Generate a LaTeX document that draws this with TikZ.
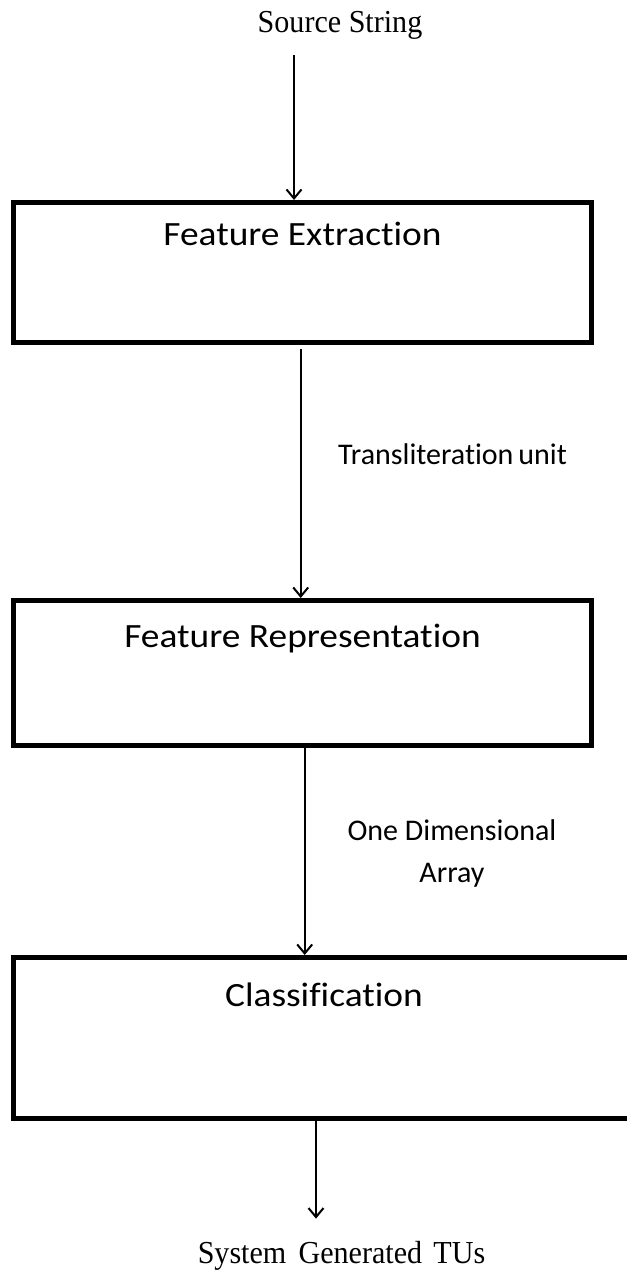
\documentclass[tikz,border=0pt]{standalone}
\usepackage{fontspec}
\setmainfont{Liberation Serif}
\newfontfamily\carlito[Ligatures=NoCommon]{Carlito}
\usetikzlibrary{arrows.meta}
\begin{document}
\begin{tikzpicture}[x=1pt,y=-1pt,
  stage/.style={draw, line width=5pt, inner sep=0pt},
  title/.style={font=\carlito\fontsize{34}{40}\selectfont, inner sep=0pt},
  note/.style={font=\carlito\fontsize{30}{42}\selectfont, inner sep=0pt},
  io/.style={font=\fontsize{32}{38}\selectfont, inner sep=0pt},
  flow/.style={line width=2pt, -{Straight Barb[length=9pt,width=15pt,line width=2pt]}}]

\useasboundingbox (0,0) rectangle (626,1273);

% three processing stages
\node[stage, minimum width=578pt, minimum height=140pt] (extract) at (302.5,272.5) {};
\node[stage, minimum width=578pt, minimum height=145pt] (represent) at (302.5,673) {};
\node[stage, minimum width=621pt, minimum height=161pt] (classify) at (324,1038) {};

% stage titles
\node[title, anchor=base] (extractT) at (302.5,245) {\scalebox{1.1}[1]{Feature Extraction}};
\node[title, anchor=base] (representT) at (302.5,647) {\scalebox{1.1}[1]{Feature Representation}};
\node[title, anchor=base] (classifyT) at (324,1006) {\scalebox{1.1}[1]{Classification}};

% input and output
\node[io, anchor=base] (src) at (340,33) {\scalebox{0.94}[1]{Source String}};
\node[io, anchor=base] (out) at (341.5,1263) {\scalebox{0.94}[1]{System\hspace{13pt}Generated\hspace{12pt}TUs}};

% edge labels
\node[note, anchor=base west] (tu) at (338,464) {Transliteration\hspace{5pt}unit};
\node[note, anchor=base] (oda) at (452,840) {One Dimensional};
\node[note, anchor=base] (arr) at (452,882) {Array};

% arrow columns
\coordinate (x1) at (294,0);
\coordinate (x2) at (300.7,0);
\coordinate (x3) at (304.7,0);
\coordinate (x4) at (316,0);

\draw[flow] ([yshift=-15pt]src.south -| x1) -- (extract.north -| x1);
\draw[flow] ([yshift=-4pt]extract.south -| x2) -- (represent.north -| x2);
\draw[flow] (represent.south -| x3) -- (classify.north -| x3);
\draw[flow] (classify.south -| x4) -- ([yshift=22pt]out.north -| x4);
\end{tikzpicture}
\end{document}
